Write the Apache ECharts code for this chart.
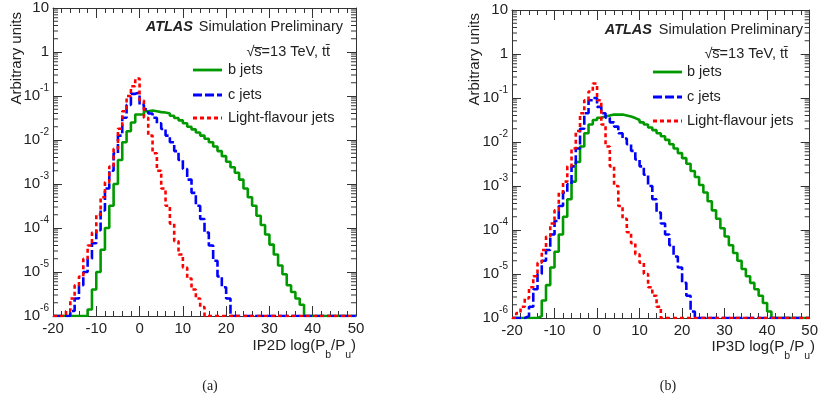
<!DOCTYPE html>
<html>
<head>
<meta charset="utf-8">
<script src="https://cdn.jsdelivr.net/npm/echarts@6/dist/echarts.min.js"></script>
<style>
  html, body { margin: 0; padding: 0; background: #fff; }
  #chart { width: 821px; height: 399px; }
</style>
</head>
<body>
<div id="chart"></div>
<script>
// Lower edges of the 1-unit wide bins of log(Pb/Pu)
const binEdges = [
  -20,-19,-18,-17,-16,-15,-14,-13,-12,-11,-10,-9,-8,-7,-6,-5,-4,-3,-2,-1,
  0,1,2,3,4,5,6,7,8,9,10,11,12,13,14,15,16,17,18,19,
  20,21,22,23,24,25,26,27,28,29,30,31,32,33,34,35,36,37,38,39,
  40,41,42,43,44,45,46,47,48,49
];
const xUpper = 50;

// IP2D, normalised bin contents (0 = empty bin)
const ip2dBJets = [
  0,0,0,0,0,0,0,0,1.4e-6,4.0e-6,1.0e-5,3.2e-5,1.0e-4,3.2e-4,1.0e-3,3.5e-3,8.9e-3,0.0158,0.025,0.038,
  0.038,0.045,0.047,0.045,0.043,0.042,0.040,0.0355,0.0316,0.028,0.024,0.020,0.0174,0.0148,0.0126,0.0107,8.9e-3,7.1e-3,5.6e-3,4.3e-3,
  3.2e-3,2.4e-3,1.8e-3,1.26e-3,7.9e-4,5.0e-4,3.2e-4,1.9e-4,1.17e-4,7.1e-5,4.2e-5,2.5e-5,1.4e-5,8.9e-6,5.0e-6,3.5e-6,2.5e-6,1.8e-6,0,0,
  0,0,0,0,0,0,0,0,0,0
];
const ip2dCJets = [
  0,0,0,0,1.3e-6,2.5e-6,5.0e-6,1.0e-5,2.0e-5,4.5e-5,8.9e-5,2.5e-4,7.9e-4,2.0e-3,5.0e-3,1.26e-2,3.2e-2,6.3e-2,0.112,0.12,
  0.063,0.050,0.040,0.032,0.024,0.0178,0.0126,8.9e-3,5.6e-3,3.5e-3,2.2e-3,1.26e-3,6.3e-4,3.2e-4,1.6e-4,7.9e-5,4.0e-5,1.8e-5,7.9e-6,4.5e-6,
  2.5e-6,0,0,0,0,0,0,0,0,0,0,0,0,0,0,0,0,0,0,0,
  0,0,0,0,0,0,0,0,0,0
];
const ip2dLightJets = [
  0,0,0,1.3e-6,2.5e-6,5.0e-6,7.9e-6,2.0e-5,4.0e-5,7.9e-5,2.0e-4,5.0e-4,1.1e-3,2.5e-3,6.3e-3,1.8e-2,4.5e-2,0.10,0.166,0.25,
  0.079,0.032,0.0126,5.0e-3,2.0e-3,7.9e-4,3.2e-4,1.26e-4,5.0e-5,2.5e-5,1.26e-5,7.1e-6,4.0e-6,2.5e-6,1.6e-6,0,0,0,0,0,
  0,0,0,0,0,0,0,0,0,0,0,0,0,0,0,0,0,0,0,0,
  0,0,0,0,0,0,0,0,0,0
];

// IP3D, normalised bin contents (0 = empty bin)
const ip3dBJets = [
  0,0,0,0,0,0,1.1e-6,2.5e-6,5.6e-6,1.4e-5,3.2e-5,7.9e-5,2.0e-4,5.0e-4,1.26e-3,3.5e-3,7.9e-3,0.0158,0.025,0.0316,
  0.0355,0.038,0.040,0.042,0.042,0.042,0.040,0.038,0.035,0.0316,0.028,0.025,0.0214,0.0186,0.0158,0.0135,0.0112,8.9e-3,7.1e-3,5.6e-3,
  4.3e-3,3.2e-3,2.2e-3,1.6e-3,1.05e-3,7.1e-4,4.5e-4,2.8e-4,1.8e-4,1.1e-4,7.1e-5,4.5e-5,3.0e-5,2.0e-5,1.3e-5,8.9e-6,6.3e-6,4.5e-6,3.2e-6,2.2e-6,
  1.4e-6,0,0,0,0,0,0,0,0,0
];
const ip3dCJets = [
  0,0,0,1.1e-6,1.8e-6,4.5e-6,1.0e-5,2.0e-5,3.5e-5,7.9e-5,1.6e-4,3.5e-4,7.1e-4,1.1e-3,2.8e-3,7.1e-3,0.020,0.045,0.089,0.10,
  0.063,0.045,0.0355,0.028,0.0224,0.0158,0.012,8.9e-3,6.3e-3,4.0e-3,2.8e-3,1.8e-3,1.0e-3,5.0e-4,2.5e-4,1.4e-4,7.9e-5,4.5e-5,2.5e-5,1.4e-5,
  6.3e-6,3.2e-6,1.4e-6,0,0,0,0,0,0,0,0,0,0,0,0,0,0,0,0,0,
  0,0,0,0,0,0,0,0,0,0
];
const ip3dLightJets = [
  0,1.3e-6,1.8e-6,2.8e-6,5.0e-6,8.9e-6,1.8e-5,3.5e-5,7.1e-5,1.4e-4,2.8e-4,7.1e-4,1.26e-3,2.8e-3,7.1e-3,0.0178,0.045,0.089,0.141,0.214,
  0.089,0.025,7.9e-3,2.8e-3,1.0e-3,3.5e-4,1.8e-4,8.9e-5,5.0e-5,2.8e-5,1.8e-5,1.0e-5,5.0e-6,3.2e-6,1.8e-6,0,0,0,0,0,
  0,0,0,0,0,0,0,0,0,0,0,0,0,0,0,0,0,0,0,0,
  0,0,0,0,0,0,0,0,0,0
];

const seriesNames = ['b jets', 'c jets', 'Light-flavour jets'];
const seriesColors = ['#009a00', '#0000ff', '#ff0000'];
const seriesDash = ['solid', [9, 3], [4, 3]];
const yFloor = 1e-6, yCeil = 10;

// log-axis minor ticks at 2..9 x 10^k
const minorTickValues = [];
for (let k = -6; k <= 0; k++) {
  for (let m = 2; m <= 9; m++) minorTickValues.push(+(m * Math.pow(10, k)).toPrecision(2));
}

const FONT = '"Liberation Sans", Arial, Helvetica, sans-serif';
const AXIS_COLOR = '#333';

// step points: each bin drawn flat from its lower edge to the next one; empty bins lie on the frame floor
function histPoints(values) {
  const pts = binEdges.map((e, i) => [e, Math.max(values[i], yFloor)]);
  pts.push([xUpper, Math.max(values[values.length - 1], yFloor)]);
  return pts;
}

function yLabel(v) {
  if (v >= 9.99) return '10';
  if (v >= 0.999) return '1';
  const e = Math.round(Math.log10(v));
  return '{b|10}{s|' + e + '}';
}

function makeXAxes(gridIndex) {
  const base = {
    gridIndex, type: 'value', min: -20, max: xUpper, interval: 10,
    axisLine: { show: true, onZero: false, lineStyle: { color: AXIS_COLOR, width: 1 } },
    axisTick: { show: true, inside: true, length: 10, lineStyle: { color: AXIS_COLOR } },
    minorTick: { show: true, splitNumber: 5, length: 5, lineStyle: { color: AXIS_COLOR } },
    splitLine: { show: false }
  };
  return [
    Object.assign({}, base, {
      position: 'bottom',
      axisLabel: { margin: 5, fontFamily: FONT, fontSize: 15, color: '#222' }
    }),
    Object.assign({}, base, { position: 'top', axisLabel: { show: false } })
  ];
}

function makeYAxes(gridIndex) {
  const base = {
    gridIndex, type: 'log', logBase: 10, min: yFloor, max: yCeil, interval: 1,
    axisLine: { show: true, onZero: false, lineStyle: { color: AXIS_COLOR, width: 1 } },
    axisTick: { show: true, inside: true, length: 9, lineStyle: { color: AXIS_COLOR } },
    splitLine: { show: false }
  };
  return [
    Object.assign({}, base, {
      position: 'left',
      axisLabel: {
        margin: 4, fontFamily: FONT, fontSize: 15, color: '#222',
        formatter: yLabel,
        rich: {
          b: { fontFamily: FONT, fontSize: 15, lineHeight: 26, color: '#222' },
          s: { fontFamily: FONT, fontSize: 10, lineHeight: 10, padding: [0, 0, 16, 0], color: '#222' }
        }
      }
    }),
    Object.assign({}, base, { position: 'right', axisLabel: { show: false } })
  ];
}

function histSeries(axisIndex, values, k) {
  return {
    name: seriesNames[k], type: 'line', step: 'end',
    xAxisIndex: axisIndex, yAxisIndex: axisIndex,
    data: histPoints(values), showSymbol: false, symbol: 'none',
    lineStyle: { color: seriesColors[k], width: 2.6, type: seriesDash[k] },
    z: 3 + k, silent: true
  };
}

function minorTickSeries(axisIndex) {
  return {
    type: 'custom', xAxisIndex: axisIndex, yAxisIndex: axisIndex, silent: true,
    data: minorTickValues.map(v => [-20, v]),
    encode: { x: 0, y: 1 },
    renderItem(params, api) {
      const l = api.coord([-20, api.value(1)]);
      const r = api.coord([xUpper, api.value(1)]);
      const style = { stroke: AXIS_COLOR, lineWidth: 1 };
      return {
        type: 'group',
        children: [
          { type: 'line', shape: { x1: l[0], y1: l[1], x2: l[0] + 5, y2: l[1] }, style },
          { type: 'line', shape: { x1: r[0], y1: r[1], x2: r[0] - 5, y2: r[1] }, style }
        ]
      };
    }
  };
}

function textEl(x, y, text, opt) {
  return {
    type: 'text', x, y, silent: true,
    rotation: opt.rotation || 0,
    style: Object.assign({
      text, fill: '#222', align: 'left', verticalAlign: 'middle',
      font: '14.5px ' + FONT
    }, opt.style || {})
  };
}

function legendLine(x1, x2, y, k) {
  return {
    type: 'line', silent: true,
    shape: { x1, y1: y, x2, y2: y },
    style: { stroke: seriesColors[k], lineWidth: 2.8, lineDash: k === 0 ? null : seriesDash[k] }
  };
}

function panelDecor(p) {
  const els = [];
  els.push(textEl(p.yTitleX, p.yTitleTop, 'Arbitrary units', {
    rotation: Math.PI / 2, style: { align: 'right', font: '15px ' + FONT }
  }));
  els.push(textEl(p.atlasRight, p.atlasY, 'ATLAS', {
    style: { align: 'right', font: 'italic bold 14.5px ' + FONT }
  }));
  els.push(textEl(p.simRight, p.atlasY, 'Simulation Preliminary', { style: { align: 'right' } }));
  els.push(textEl(p.energyRight, p.energyY, '\u221As\u0305=13 TeV, tt\u0304', { style: { align: 'right' } }));
  p.legendY.forEach((y, k) => {
    els.push(legendLine(p.legendX1, p.legendX2, y, k));
    els.push(textEl(p.legendText, y, seriesNames[k], {}));
  });
  els.push(textEl(p.xTitleRight, p.xTitleY, p.xTitle, {
    style: {
      align: 'right', font: '15px ' + FONT,
      rich: {
        m: { fontFamily: FONT, fontSize: 15, lineHeight: 26, color: '#222' },
        sub: { fontFamily: FONT, fontSize: 10.5, lineHeight: 10, padding: [19, 0, 0, 0], color: '#222' }
      }
    }
  }));
  els.push(textEl(p.captionX, 386, p.caption, {
    style: { align: 'center', font: '14px "Liberation Serif", "DejaVu Serif", serif' }
  }));
  return els;
}

const panels = [
  {
    yTitleX: 17, yTitleTop: 12, atlasRight: 193, simRight: 343, atlasY: 27,
    energyRight: 330, energyY: 52, legendX1: 193, legendX2: 222, legendText: 228,
    legendY: [70, 95, 118], xTitleRight: 356, xTitleY: 346,
    xTitle: '{m|IP2D log(P}{sub|b}{m|/P}{sub|u}{m|)}', captionX: 210, caption: '(a)'
  },
  {
    yTitleX: 475, yTitleTop: 13, atlasRight: 652, simRight: 803, atlasY: 30,
    energyRight: 788, energyY: 54, legendX1: 653, legendX2: 682, legendText: 687,
    legendY: [72, 97, 121], xTitleRight: 815, xTitleY: 347,
    xTitle: '{m|IP3D log(P}{sub|b}{m|/P}{sub|u}{m|)}', captionX: 668, caption: '(b)'
  }
];

const chart = echarts.init(document.getElementById('chart'), null, { renderer: 'canvas' });
chart.setOption({
  animation: false,
  backgroundColor: '#fff',
  grid: [
    { left: 53, top: 8, width: 303, height: 308 },
    { left: 512, top: 10, width: 303, height: 308 }
  ],
  xAxis: [...makeXAxes(0), ...makeXAxes(1)],
  yAxis: [...makeYAxes(0), ...makeYAxes(1)],
  series: [
    minorTickSeries(0),
    histSeries(0, ip2dBJets, 0),
    histSeries(0, ip2dCJets, 1),
    histSeries(0, ip2dLightJets, 2),
    minorTickSeries(2),
    histSeries(2, ip3dBJets, 0),
    histSeries(2, ip3dCJets, 1),
    histSeries(2, ip3dLightJets, 2)
  ],
  graphic: [...panelDecor(panels[0]), ...panelDecor(panels[1])]
});
</script>
</body>
</html>
